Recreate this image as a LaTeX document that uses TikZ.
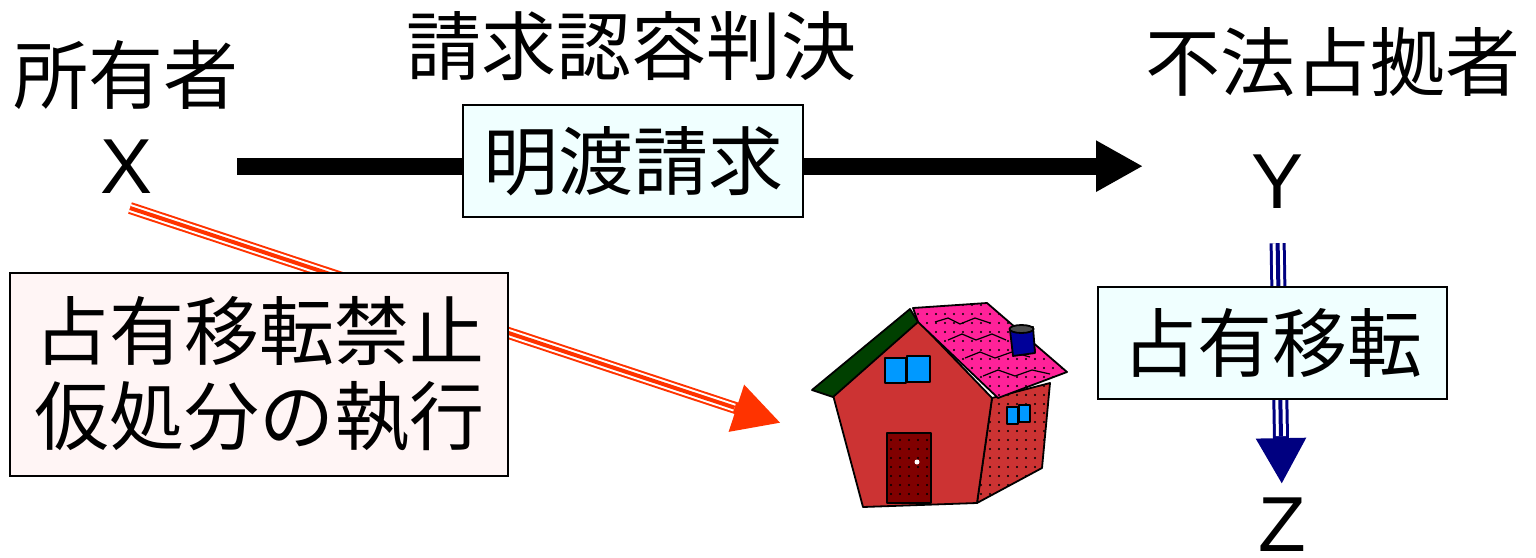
\documentclass[tikz,border=0pt]{standalone}
\usepackage{fontspec}
\setmainfont{Liberation Sans}
\newfontfamily\jp{Noto Sans CJK JP}
\usetikzlibrary{arrows.meta,patterns.meta}
\definecolor{boxcyan}{HTML}{F0FFFF}
\definecolor{boxpink}{HTML}{FFF5F5}
\definecolor{redarrow}{HTML}{FF3300}
\definecolor{navyarrow}{HTML}{000080}
\definecolor{wall}{HTML}{CC3333}
\definecolor{roof}{HTML}{FF2299}
\definecolor{eave}{HTML}{004000}
\definecolor{glass}{HTML}{0099FF}
\definecolor{door}{HTML}{800000}
\definecolor{chimney}{HTML}{000099}
\begin{document}
\begin{tikzpicture}[x=1pt,y=-1pt,
  jptext/.style={inner sep=0pt,anchor=base,font=\jp\fontsize{75}{75}\selectfont},
  latin/.style={inner sep=0pt,anchor=base,font=\fontsize{78}{78}\selectfont},
  labelbox/.style={draw=black,line width=1.6pt,inner sep=0pt,align=center,
    font=\jp\fontsize{75}{91}\selectfont},
  outline/.style={draw=black,line width=1.8pt,line join=round},
  dotfill/.style={pattern={Dots[radius=1.1pt,distance=9pt]},pattern color=black}]
\useasboundingbox (0,0) rectangle (1536,557);

% parties and headings
\node[jptext] (owner) at (126,103) {所有者};
\node[latin] (X) at (127,193) {X};
\node[jptext] (judg) at (631,74) {請求認容判決};
\node[jptext] (occupant) at (1333,90) {不法占拠者};
\node[latin] (Y) at (1277,208) {Y};
\node[latin] (Z) at (1282,551) {Z};

% claim for surrender: X -> Y
\draw[line width=17pt,-{Triangle[length=47pt,width=48pt]},shorten <=110pt,shorten >=134pt]
  (X.center) -- (X.center -| Y.center);
\node[labelbox,fill=boxcyan,minimum width=340pt,minimum height=112pt] (claim)
  at (633,161) {\raisebox{-5pt}{明渡請求}};

% provisional disposition: X -> house
\coordinate (redstart) at (130,208);
\coordinate (redtip) at (781,423);
\draw[redarrow,line width=12pt,-{Triangle[length=47pt,width=46pt]}] (redstart) -- (redtip);
\draw[white,line width=8pt,shorten >=49pt] (redstart) -- (redtip);
\draw[redarrow,line width=4pt,shorten >=49pt] (redstart) -- (redtip);
\node[labelbox,fill=boxpink,minimum width=498pt,minimum height=203pt] (prov)
  at (259,374.5) {\raisebox{-4pt}{占有移転禁止}\\[-2pt]仮処分の執行};

% transfer of possession: Y -> Z
\draw[navyarrow,line width=16pt,-{Triangle[length=46pt,width=47pt]},shorten <=35pt,shorten >=13pt]
  (Y.south) -- (Z.north);
\draw[white,line width=10pt,shorten <=35pt,shorten >=61pt] (Y.south) -- (Z.north);
\draw[navyarrow,line width=4pt,shorten <=35pt,shorten >=61pt] (Y.south) -- (Z.north);
\node[labelbox,fill=boxcyan,minimum width=349pt,minimum height=112pt] (transfer)
  at (1272.5,343) {\raisebox{-5pt}{占有移転}};

% the house
\begin{scope}
  % side wall
  \fill[wall] (992,398) -- (1050,383) -- (1042,468) -- (977,503) -- cycle;
  \fill[dotfill] (992,398) -- (1050,383) -- (1042,468) -- (977,503) -- cycle;
  \draw[outline] (992,398) -- (1050,383) -- (1042,468) -- (977,503) -- cycle;
  % front wall
  \draw[outline,fill=wall] (833,395) -- (917,320) -- (992,398) -- (977,503) -- (863,507) -- cycle;
  % roof
  \fill[roof] (913,308) -- (987,303) -- (1067,372) -- (998,398) -- (918,322) -- cycle;
  \fill[dotfill] (913,308) -- (987,303) -- (1067,372) -- (998,398) -- (918,322) -- cycle;
  \draw[outline] (913,308) -- (987,303) -- (1067,372) -- (998,398) -- (918,322) -- cycle;
  % roof tile edges
  \draw[black,line width=1.2pt] (935,322) -- (948,318) -- (960,324) -- (975,318) -- (990,323);
  \draw[black,line width=1.2pt] (948,340) -- (962,334) -- (976,340) -- (992,334) -- (1006,340);
  \draw[black,line width=1.2pt] (965,358) -- (980,352) -- (995,358) -- (1012,352) -- (1030,357);
  \draw[black,line width=1.2pt] (983,376) -- (998,370) -- (1015,376) -- (1032,370) -- (1050,374);
  % chimney
  \draw[outline,fill=chimney] (1010,330) -- (1033,327) -- (1035,353) -- (1013,356) -- cycle;
  \draw[outline,fill=black!70] (1021.5,329) ellipse (12pt and 4pt);
  % eave
  \draw[outline,fill=eave] (812,390) -- (910,309) -- (918,322) -- (833,397) -- cycle;
  % front window
  \draw[outline,fill=glass] (885,358) rectangle (906,383);
  \draw[outline,fill=glass] (907,356) rectangle (930,382);
  % side window
  \draw[outline,fill=glass] (1007,407) rectangle (1018,424);
  \draw[outline,fill=glass] (1019,405) rectangle (1030,422);
  % door
  \fill[door] (887,433) rectangle (931,503);
  \fill[dotfill] (887,433) rectangle (931,503);
  \draw[outline] (887,433) rectangle (931,503);
  \fill[white] (917,462) circle (2.5pt);
\end{scope}
\end{tikzpicture}
\end{document}
